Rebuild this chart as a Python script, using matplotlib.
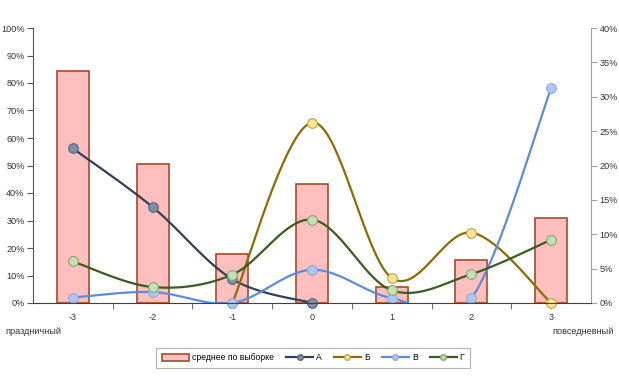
import matplotlib
matplotlib.use("Agg")
import matplotlib.pyplot as plt
from matplotlib.lines import Line2D
from matplotlib.patches import Patch
from matplotlib.ticker import PercentFormatter
import numpy as np

plt.rcParams["font.family"] = ["Liberation Sans", "DejaVu Sans"]

categories = [-3, -2, -1, 0, 1, 2, 3]
# среднее по выборке (правая ось, доли)
sample_mean = [0.338, 0.202, 0.072, 0.173, 0.024, 0.063, 0.124]
# группы (левая ось, доли); nan = точки нет
grp_a = [0.562, 0.349, 0.087, 0.0, np.nan, np.nan, np.nan]
grp_b = [np.nan, np.nan, 0.0, 0.656, 0.091, 0.256, 0.0]
grp_v = [0.020, 0.040, 0.0, 0.121, 0.018, 0.018, 0.781]
grp_g = [0.151, 0.058, 0.103, 0.303, 0.046, 0.105, 0.230]

series = [
    ("А", grp_a, "#333F55", "#7D8FA8", "#56667F"),
    ("Б", grp_b, "#8C6C00", "#FFE491", "#C2A24A"),
    ("В", grp_v, "#5B8CDC", "#AFC7F0", "#8DAAE0"),
    ("Г", grp_g, "#3B5B1F", "#C6E0B5", "#86A66C"),
]

BAR_FC, BAR_EC = "#FFBFBF", "#A24B28"
FS = 6.6


def smooth(xs, ys, n=40):
    # сглаживание как в Excel: Catmull-Rom через кубические кривые Безье
    xs = np.asarray(xs, float); ys = np.asarray(ys, float)
    px, py = [], []
    for i in range(len(xs) - 1):
        i0, i3 = max(i - 1, 0), min(i + 2, len(xs) - 1)
        p0 = np.array([xs[i], ys[i]]); p3 = np.array([xs[i + 1], ys[i + 1]])
        c1 = p0 + (np.array([xs[i + 1], ys[i + 1]]) - np.array([xs[i0], ys[i0]])) / 6
        c2 = p3 - (np.array([xs[i3], ys[i3]]) - np.array([xs[i], ys[i]])) / 6
        t = np.linspace(0, 1, n)[:, None]
        pts = (1-t)**3*p0 + 3*(1-t)**2*t*c1 + 3*(1-t)*t**2*c2 + t**3*p3
        px.extend(pts[:, 0]); py.extend(pts[:, 1])
    return px, py


fig = plt.figure(figsize=(6.19, 3.80), dpi=100)
ax = fig.add_axes([33/619, 1-303/380, (591-33)/619, 275/380])
ax2 = ax.twinx()
ax2.set_zorder(ax.get_zorder() - 1)
ax.patch.set_visible(False)

ax2.bar(categories, sample_mean, width=0.4, color=BAR_FC, edgecolor=BAR_EC, lw=1.2)
ax2.set_ylim(0, 0.4)
ax2.set_yticks(np.arange(0, 0.41, 0.05))
ax2.yaxis.set_major_formatter(PercentFormatter(1.0, decimals=0))

for name, vals, lc, mfc, mec in series:
    v = np.asarray(vals, float)
    ok = ~np.isnan(v)
    xs = np.asarray(categories, float)[ok]
    sx, sy = smooth(xs, v[ok])
    ax.plot(sx, sy, color=lc, lw=1.6, solid_capstyle="round", clip_on=True)
    ax.plot(xs, v[ok], ls="none", marker="o", ms=7, mfc=mfc, mec=mec, mew=0.8, clip_on=False)

ax.set_ylim(0, 1.0)
ax.set_xlim(-3.5, 3.5)
ax.set_yticks(np.arange(0, 1.01, 0.1))
ax.yaxis.set_major_formatter(PercentFormatter(1.0, decimals=0))
ax.set_xticks(categories)
ax.set_xticklabels([str(c) for c in categories])
ax.set_xticks(np.arange(-2.5, 3.0, 1.0), minor=True)
ax.tick_params(axis="x", which="major", length=0, pad=7, labelsize=FS, labelcolor="#333333")
ax.tick_params(axis="x", which="minor", length=4, direction="out", color="#555555")
ax.tick_params(axis="y", length=4, direction="out", color="#555555", labelsize=FS, labelcolor="#333333", pad=2)
ax2.tick_params(axis="y", length=4, direction="out", color="#A0A0A0", labelsize=FS, labelcolor="#333333", pad=2)

for a in (ax, ax2):
    a.spines["top"].set_visible(False)
ax.spines["right"].set_visible(False)
ax.spines["left"].set_color("#555555")
ax.spines["bottom"].set_color("#404040")
ax2.spines["left"].set_visible(False)
ax2.spines["bottom"].set_visible(False)
ax2.spines["right"].set_color("#A0A0A0")

fig.text(5/619, 1-331/380, "праздничный", fontsize=FS, color="#333333", va="center", ha="left")
fig.text(614/619, 1-331/380, "повседневный", fontsize=FS, color="#333333", va="center", ha="right")

handles = [Patch(facecolor=BAR_FC, edgecolor=BAR_EC, lw=1.2, label="среднее по выборке")]
for name, vals, lc, mfc, mec in series:
    handles.append(Line2D([0], [0], color=lc, lw=1.6, marker="o", ms=4, mfc=mfc, mec=mec, label=name))
leg = fig.legend(handles=handles, loc="center", bbox_to_anchor=(313/619, 1-358/380), ncol=5,
                 fontsize=6.2, frameon=True, fancybox=False, handlelength=3.2, handleheight=0.7,
                 columnspacing=1.4, handletextpad=0.3, borderpad=0.6, borderaxespad=0)
leg.get_frame().set_edgecolor("#A0A0A0")
leg.get_frame().set_linewidth(0.8)

fig.savefig("out.png", dpi=100)
